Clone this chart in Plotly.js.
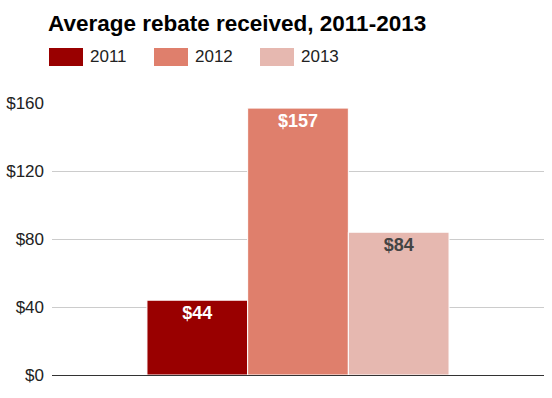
<!DOCTYPE html>
<html><head><meta charset="utf-8">
<script src="https://cdn.plot.ly/plotly-3.0.1.min.js"></script>
<style>html,body{margin:0;padding:0;background:#fff;}#chart{width:552px;height:398px;}</style>
</head><body><div id="chart"></div>
<script>
const years = ['2011', '2012', '2013'];
const rebates = [44, 157, 84];
const category = ['Average rebate'];
const colors = ['#990000', '#df7f6c', '#e6b8b0'];
const labelColors = ['#ffffff', '#ffffff', '#444444'];
const yTicks = [0, 40, 80, 120, 160];
const yTickLabels = ['$0', '$40', '$80', '$120', '$160'];

const FONT = 'Arial, Liberation Sans, sans-serif';
const traces = years.map((yr, i) => ({
  type: 'bar',
  name: yr,
  x: category,
  y: [rebates[i]],
  text: ['$' + rebates[i]],
  textposition: 'inside',
  insidetextanchor: 'end',
  textangle: 0,
  insidetextfont: {family: FONT, size: 18, color: labelColors[i], weight: 'bold'},
  marker: {color: colors[i], line: {color: '#ffffff', width: 1}},
  hoverinfo: 'none',
  showlegend: false
}));

const PW = 492, PH = 272, ML = 52, MB = 23;
const legendX = [49, 154, 260];
const shapes = [];
const annotations = [];
years.forEach((yr, i) => {
  shapes.push({type: 'rect', xref: 'paper', yref: 'paper',
    x0: (legendX[i] - ML) / PW, x1: (legendX[i] + 34 - ML) / PW,
    y0: (398 - MB - 66) / PH, y1: (398 - MB - 48) / PH,
    fillcolor: colors[i], line: {width: 0}});
  annotations.push({xref: 'paper', yref: 'paper',
    x: (legendX[i] + 39 - ML) / PW, y: (398 - MB - 57) / PH,
    xanchor: 'left', yanchor: 'middle', showarrow: false, text: yr,
    font: {family: FONT, size: 17, color: '#222222'}});
});

const layout = {
  width: 552, height: 398,
  margin: {l: ML, r: 552 - ML - PW, t: 103, b: MB},
  paper_bgcolor: '#ffffff', plot_bgcolor: '#ffffff',
  title: {text: '<b>Average rebate received, 2011-2013</b>', x: 48 / 552, xanchor: 'left', y: 1 - 23 / 398, yanchor: 'middle',
    font: {family: FONT, size: 22.5, color: '#000000'}},
  barmode: 'group',
  bargap: 0.386,
  bargroupgap: 0,
  xaxis: {showticklabels: false, showgrid: false, zeroline: false, showline: false, ticks: '', fixedrange: true},
  yaxis: {range: [0, 160], tickvals: yTicks, ticktext: yTickLabels, showgrid: true, gridcolor: '#cccccc', gridwidth: 1,
    zeroline: true, zerolinecolor: '#333333', zerolinewidth: 1, showline: false, ticks: '', ticklen: 0,
    ticklabelstandoff: 7,
    tickfont: {family: FONT, size: 17, color: '#222222'}, fixedrange: true},
  shapes: shapes,
  annotations: annotations,
  showlegend: false
};

Plotly.newPlot('chart', traces, layout, {displayModeBar: false, staticPlot: true});
</script>
</body></html>
